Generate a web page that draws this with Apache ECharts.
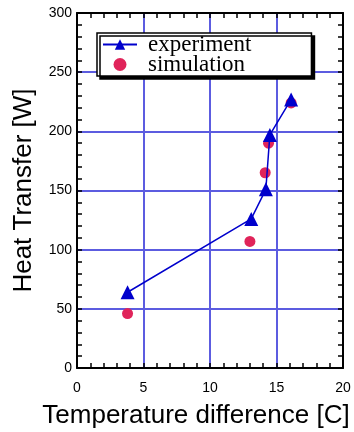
<!DOCTYPE html>
<html>
<head>
<meta charset="utf-8">
<script src="https://cdn.jsdelivr.net/npm/echarts@6/dist/echarts.min.js"></script>
<style>
  html, body { margin: 0; padding: 0; background: #fff; }
  #chart { width: 354px; height: 432px; }
</style>
</head>
<body>
<div id="chart"></div>
<script>
// values
var expX = [3.8, 13.1, 14.2, 14.5, 16.1]
var expY = [64, 126, 151, 197, 227]
var simX = [3.8, 13.0, 14.15, 14.4, 16.1]
var simY = [46, 107, 165, 190, 224]
var seriesNames = ['experiment', 'simulation']

function pairs (xs, ys) {
  return xs.map(function (x, i) { return [x, ys[i]] })
}

var gridLine = { show: true, lineStyle: { color: '#5c5ce0', width: 2 } }
var frameLine = { show: true, onZero: false, lineStyle: { color: '#000', width: 2 } }
var tickIn = { show: true, inside: true, length: 5, lineStyle: { color: '#000', width: 1.5 } }
var minorIn = { show: true, splitNumber: 5, length: 5, lineStyle: { color: '#000', width: 1.5 } }

var chart = echarts.init(document.getElementById('chart'))
var option = {
  animation: false,
  backgroundColor: '#fff',
  grid: { left: 77, right: 11, top: 13, bottom: 64, outerBoundsMode: 'none' },
  legend: {
    orient: 'vertical',
    left: 97,
    top: 33,
    data: seriesNames,
    itemWidth: 34,
    itemHeight: 13,
    itemGap: -3,
    padding: [0, 60, 0, 5],
    backgroundColor: '#fff',
    borderColor: '#000',
    borderWidth: 1.5,
    borderRadius: 0,
    shadowColor: '#000',
    shadowBlur: 0,
    shadowOffsetX: 3,
    shadowOffsetY: 3,
    textStyle: {
      fontFamily: 'Liberation Serif',
      fontSize: 23,
      color: '#000',
      padding: [0, 0, 0, 6]
    }
  },
  xAxis: [{
    type: 'value',
    min: 0,
    max: 20,
    interval: 5,
    name: 'Temperature difference [C]',
    nameLocation: 'middle',
    nameGap: 35,
    nameTextStyle: { fontFamily: 'Liberation Sans', fontSize: 26, color: '#000', padding: [0, 28, 0, 0] },
    axisLine: frameLine,
    axisTick: tickIn,
    minorTick: minorIn,
    splitLine: gridLine,
    axisLabel: { fontFamily: 'Liberation Sans', fontSize: 14, color: '#000', margin: 13 }
  }, {
    type: 'value',
    position: 'top',
    min: 0,
    max: 20,
    interval: 5,
    axisLine: frameLine,
    axisTick: tickIn,
    minorTick: minorIn,
    splitLine: { show: false },
    axisLabel: { show: false }
  }],
  yAxis: [{
    type: 'value',
    min: 0,
    max: 300,
    interval: 50,
    name: 'Heat Transfer [W]',
    nameLocation: 'middle',
    nameGap: 40,
    nameTextStyle: { fontFamily: 'Liberation Sans', fontSize: 26, color: '#000' },
    axisLine: frameLine,
    axisTick: tickIn,
    minorTick: minorIn,
    splitLine: gridLine,
    axisLabel: { fontFamily: 'Liberation Sans', fontSize: 14, color: '#000', margin: 5 }
  }, {
    type: 'value',
    position: 'right',
    min: 0,
    max: 300,
    interval: 50,
    axisLine: frameLine,
    axisTick: tickIn,
    minorTick: minorIn,
    splitLine: { show: false },
    axisLabel: { show: false }
  }],
  series: [
    {
      name: seriesNames[0],
      type: 'line',
      data: pairs(expX, expY),
      symbol: 'triangle',
      symbolSize: 14,
      z: 3,
      itemStyle: { color: '#0000cc' },
      lineStyle: { color: '#0000cc', width: 1.5 }
    },
    {
      name: seriesNames[1],
      type: 'scatter',
      data: pairs(simX, simY),
      symbol: 'circle',
      symbolSize: 11,
      z: 2,
      itemStyle: { color: '#e0245a', opacity: 1 }
    }
  ]
}
chart.setOption(option)
</script>
</body>
</html>
